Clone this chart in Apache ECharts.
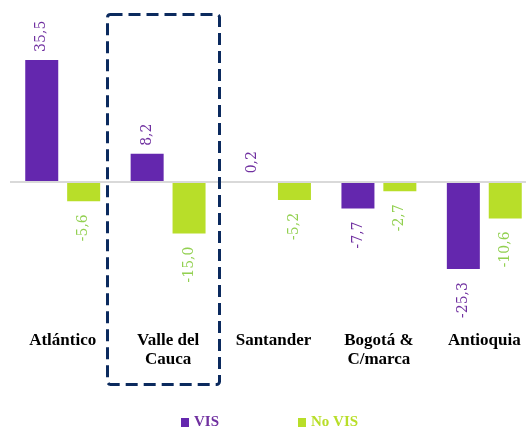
<!DOCTYPE html>
<html>
<head>
<meta charset="utf-8">
<script src="https://cdn.jsdelivr.net/npm/echarts@6/dist/echarts.min.js"></script>
<style>
html,body{margin:0;padding:0;background:#fff;overflow:hidden;}
#chart{width:537px;height:427px;}
</style>
</head>
<body>
<div id="chart"></div>
<script>
var categories = ['Atlántico', 'Valle del\nCauca', 'Santander', 'Bogotá &\nC/marca', 'Antioquia'];
var visValues = [35.5, 8.2, 0.2, -7.7, -25.3];
var noVisValues = [-5.6, -15.0, -5.2, -2.7, -10.6];
var seriesNames = ['VIS', 'No VIS'];

var purple = '#6427ae';
var green = '#b8de29';
var purpleLabel = '#7030a0';
var greenLabel = '#92d050';

function fmt(v) { return v.toFixed(1).replace('.', ','); }

function buildData(values, labelColor) {
  return values.map(function (v) {
    var pos = v >= 0;
    return {
      value: v,
      label: {
        show: true,
        position: pos ? 'top' : 'bottom',
        rotate: 90,
        align: pos ? 'left' : 'right',
        verticalAlign: 'middle',
        distance: pos ? 8 : 13,
        color: labelColor,
        fontFamily: 'DejaVu Serif',
        fontSize: 14,
        formatter: function (p) { return fmt(p.value); }
      }
    };
  });
}

var chart = echarts.init(document.getElementById('chart'), null, { renderer: 'canvas' });
chart.setOption({
  animation: false,
  backgroundColor: '#ffffff',
  grid: { left: 10, right: 0, top: 44.4, height: 275.2 },
  xAxis: {
    type: 'category',
    data: categories,
    axisLine: { show: false },
    axisTick: { show: false },
    axisLabel: {
      margin: 12,
      color: '#000',
      fontFamily: 'Liberation Serif',
      fontWeight: 'bold',
      fontSize: 17,
      lineHeight: 19,
      interval: 0
    }
  },
  yAxis: {
    type: 'value',
    min: -40,
    max: 40,
    show: false,
    splitLine: { show: false }
  },
  legend: {
    left: 176,
    top: 410,
    icon: 'rect',
    itemWidth: 8,
    itemHeight: 9,
    itemGap: 79,
    textStyle: { fontFamily: 'Liberation Serif', fontWeight: 'bold', fontSize: 15 },
    data: [
      { name: seriesNames[0], textStyle: { color: purpleLabel } },
      { name: seriesNames[1], textStyle: { color: green } }
    ]
  },
  series: [
    {
      name: seriesNames[0],
      type: 'bar',
      barWidth: 33,
      barGap: '27%',
      itemStyle: { color: purple },
      data: buildData(visValues, purpleLabel),
      markLine: {
        silent: true,
        symbol: 'none',
        label: { show: false },
        lineStyle: { color: '#d9d9d9', width: 2, type: 'solid' },
        data: [{ yAxis: 0 }]
      }
    },
    {
      name: seriesNames[1],
      type: 'bar',
      barWidth: 33,
      barGap: '27%',
      itemStyle: { color: green },
      data: buildData(noVisValues, greenLabel)
    }
  ],
  graphic: [
    {
      type: 'rect',
      shape: { x: 107.5, y: 14.5, width: 112, height: 370, r: 3 },
      style: { fill: 'none', stroke: '#0b2a5e', lineWidth: 3, lineDash: [12, 6] },
      z: 100
    }
  ]
});
</script>
</body>
</html>
